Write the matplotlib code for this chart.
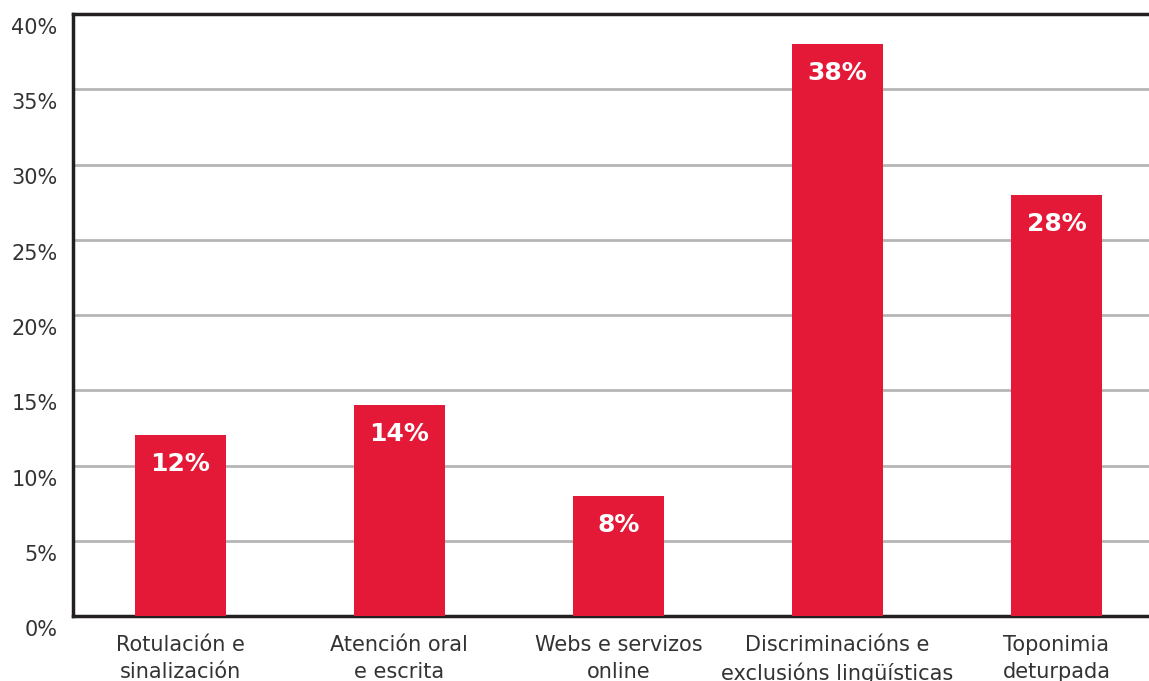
import numpy as np
import matplotlib
matplotlib.use("Agg")
from matplotlib import pyplot as plt
from matplotlib import transforms

categorias = ["Rotulación e\nsinalización", "Atención oral\ne escrita", "Webs e servizos\nonline",
              "Discriminacións e\nexclusións lingüísticas", "Toponimia\ndeturpada"]
valores = [12, 14, 8, 38, 28]
yticks = [0, 5, 10, 15, 20, 25, 30, 35, 40]

fig = plt.figure(figsize=(11.49, 6.81), dpi=100)
# axes extend past the right edge of the figure, as in the reference
ax = fig.add_axes([73/1149, 1 - 616/681, 1093/1149, 602/681])

x = np.arange(len(valores))
ax.bar(x, valores, width=0.415, color="#e31937", zorder=3)
for xi, v in zip(x, valores):
    ax.annotate(f"{v}%", (xi, v), xytext=(0, -29), textcoords="offset pixels",
                ha="center", va="center", color="white", fontsize=18, fontweight="bold", zorder=4)

ax.set_xlim(-0.49, 4.5)
ax.set_ylim(0, 40)
ax.set_yticks(yticks)
ax.set_yticklabels([f"{t}%" for t in yticks], fontsize=15, color="#333333")
ax.set_xticks(x)
ax.set_xticklabels(categorias, fontsize=15, color="#333333", linespacing=1.4)
ax.tick_params(axis="both", length=0)
ax.tick_params(axis="x", pad=14)
ax.tick_params(axis="y", pad=11)
off = transforms.ScaledTranslation(0, -12/100, fig.dpi_scale_trans)
for lab in ax.get_yticklabels():
    lab.set_transform(lab.get_transform() + off)

ax.grid(axis="y", color="#b5b5b5", linewidth=2, zorder=0)
for s in ["left", "bottom", "top"]:
    ax.spines[s].set_color("#231f20")
    ax.spines[s].set_linewidth(2.5)
ax.spines["right"].set_visible(False)

fig.savefig("out.png", dpi=100)
